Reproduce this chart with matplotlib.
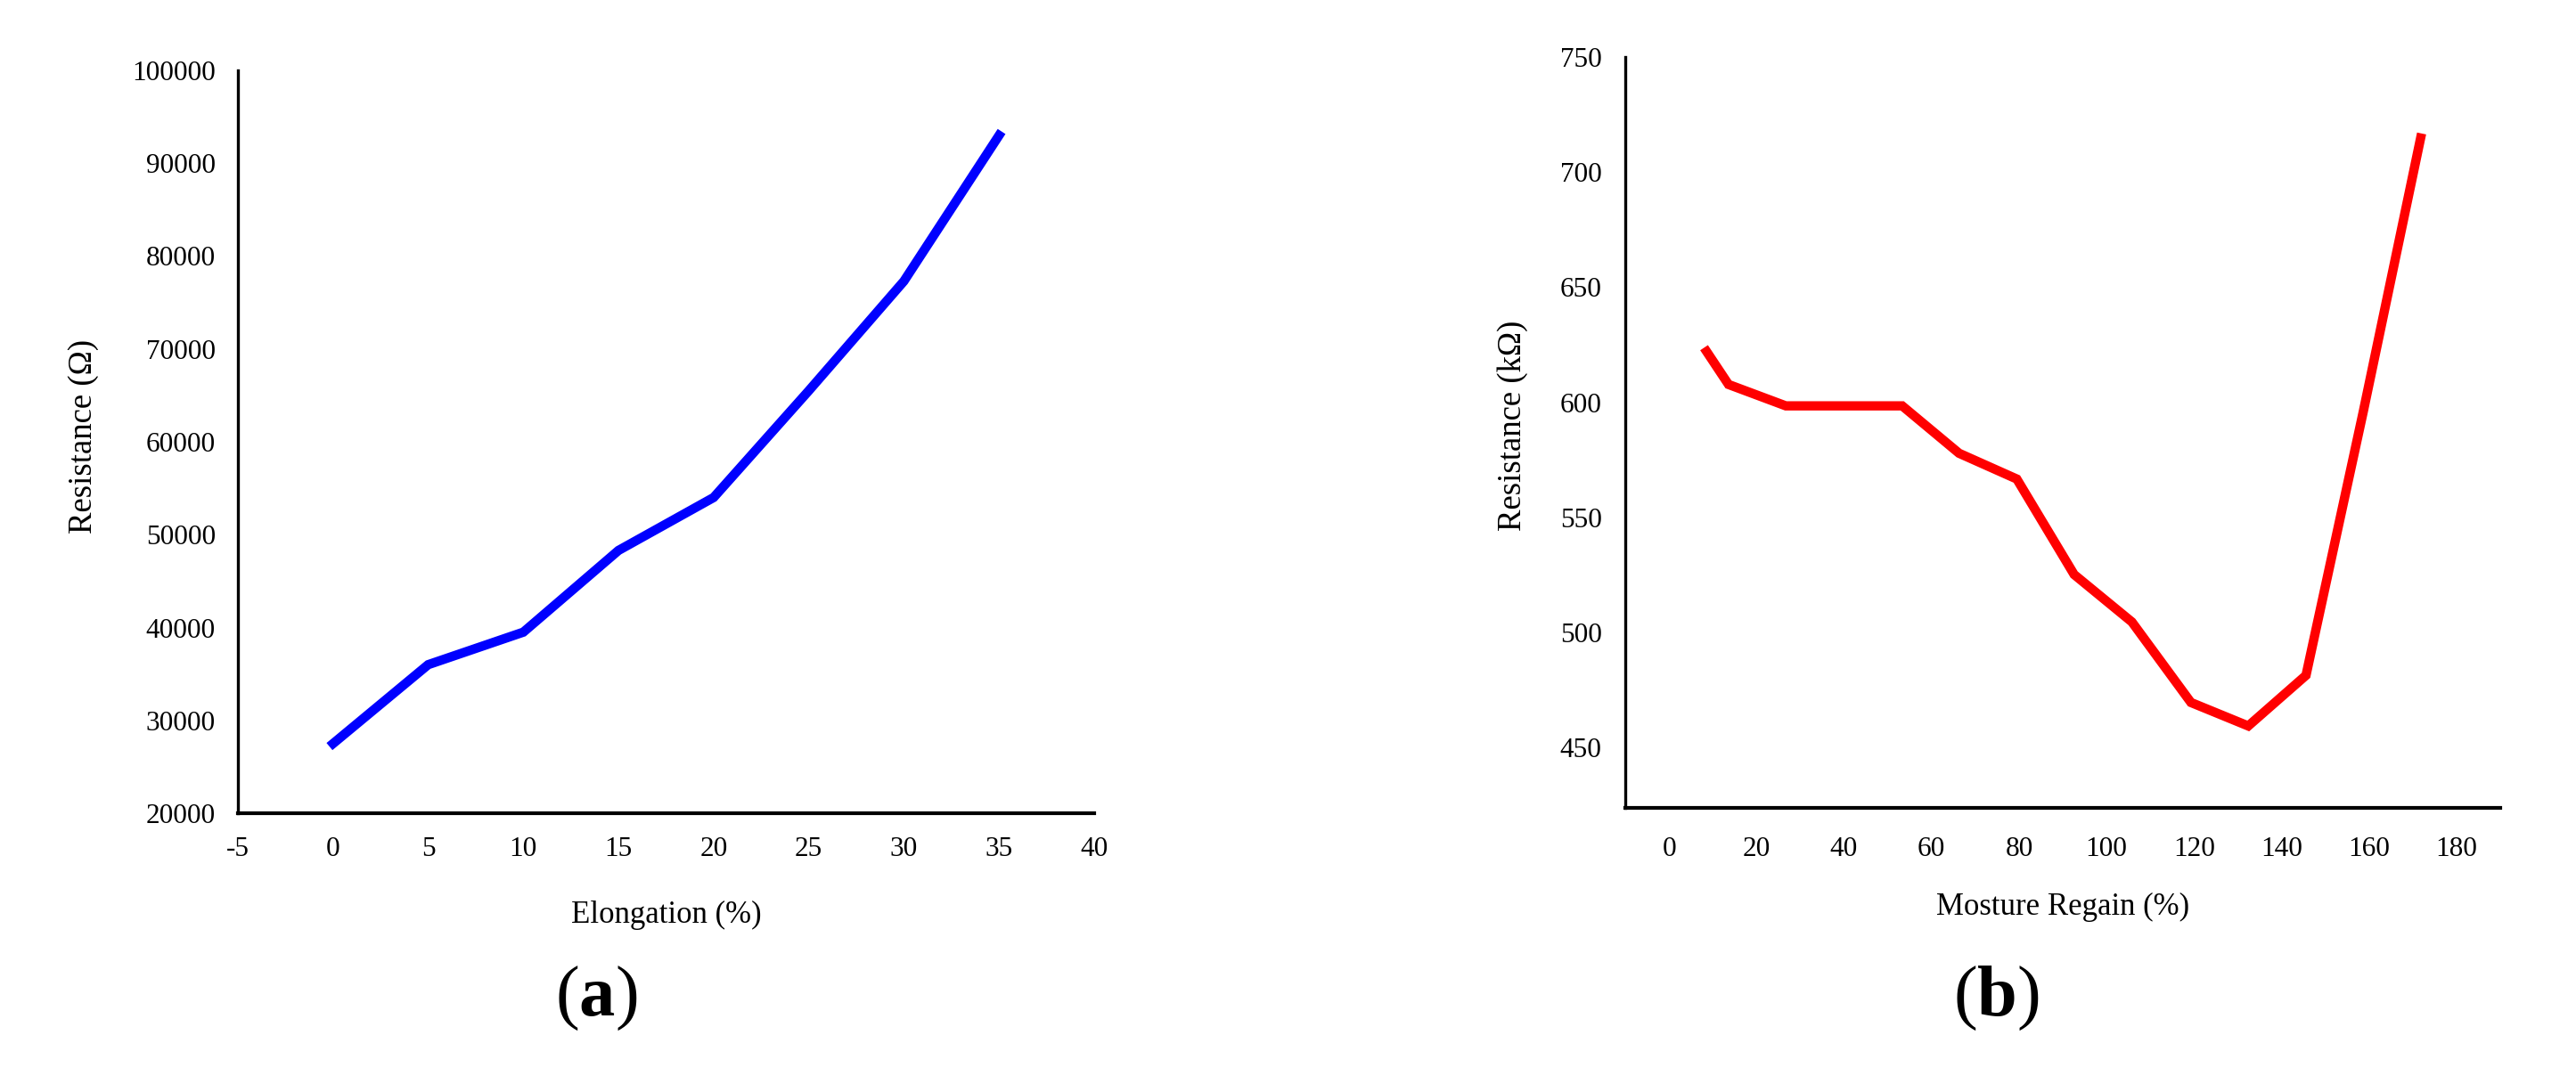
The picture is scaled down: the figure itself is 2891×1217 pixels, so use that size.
import matplotlib
matplotlib.use("Agg")
import matplotlib.pyplot as plt
import numpy as np

# ---- data ----
elongation = [0, 5, 10, 15, 20, 25, 30, 35]
resistance_a = [27500, 36000, 39500, 48300, 54000, 65500, 77300, 93000]
a_xticks = [-5, 0, 5, 10, 15, 20, 25, 30, 35, 40]
a_yticks = [20000, 30000, 40000, 50000, 60000, 70000, 80000, 90000, 100000]

moisture = [8.6, 13.6, 26.7, 53.3, 66.3, 79.5, 92.6, 105.8, 119.3, 132.4, 145.6, 158.7, 171.8]
resistance_b = [622, 607.7, 598.4, 598.4, 577.8, 566.6, 525.1, 504.5, 469.5, 459.3, 481.3, 596, 714.8]
b_xticks = [0, 20, 40, 60, 80, 100, 120, 140, 160, 180]
b_yticks = [450, 500, 550, 600, 650, 700, 750]

plt.rcParams['font.family'] = ['Liberation Serif', 'DejaVu Serif']
plt.rcParams['axes.unicode_minus'] = False
plt.rcParams['mathtext.fontset'] = 'custom'
plt.rcParams['mathtext.rm'] = 'Liberation Serif'
plt.rcParams['mathtext.bf'] = 'Liberation Serif:bold'

W, H = 2891, 1217
fig = plt.figure(figsize=(W / 100, H / 100), dpi=100)

def style(ax):
    for s in ['top', 'right']:
        ax.spines[s].set_visible(False)
    ax.spines['left'].set_linewidth(2.4)
    ax.spines['bottom'].set_linewidth(3.0)
    ax.tick_params(axis='both', length=0, labelsize=22.5)
    ax.tick_params(axis='x', pad=19)
    ax.tick_params(axis='y', pad=18)

# ---- panel (a) ----
ax1 = fig.add_axes([267 / W, 1 - 913 / H, (1228 - 267) / W, (913 - 79) / H])
ax1.plot(elongation, resistance_a, color='#0000FF', lw=7.5, solid_joinstyle='miter')
ax1.set_xlim(-5, 40)
ax1.set_ylim(20000, 100000)
ax1.set_xticks(a_xticks)
ax1.set_yticks(a_yticks)
style(ax1)
ax1.set_xlabel('Elongation (%)', fontsize=25)
ax1.xaxis.label.set_va('center')
ax1.xaxis.set_label_coords(0.5, -0.137)
ax1.set_ylabel('Resistance (Ω)', fontsize=26.5)
ax1.yaxis.label.set_va('center')
ax1.yaxis.set_label_coords(-0.18, 0.507)

# ---- panel (b) ----
ax2 = fig.add_axes([1824 / W, 1 - 907 / H, (2806 - 1824) / W, (907 - 64) / H])
ax2.plot(moisture, resistance_b, color='#FF0000', lw=7.5, solid_joinstyle='miter')
ax2.set_xlim(-10, 190)
ax2.set_ylim(423.7, 750)
ax2.set_xticks(b_xticks)
ax2.set_yticks(b_yticks)
style(ax2)
ax2.tick_params(axis='x', pad=23)
ax2.tick_params(axis='y', pad=19)
ax2.set_xlabel('Mosture Regain (%)', fontsize=25)
ax2.xaxis.label.set_va('center')
ax2.xaxis.set_label_coords(0.5, -0.132)
ax2.set_ylabel('Resistance (kΩ)', fontsize=26.5)
ax2.yaxis.label.set_va('center')
ax2.yaxis.set_label_coords(-0.129, 0.509)

# panel letters
fig.text(669 / W, 1 - 1121 / H, r'($\mathbf{a}$)', fontsize=58, ha='center', va='center')
fig.text(2240 / W, 1 - 1121 / H, r'($\mathbf{b}$)', fontsize=58, ha='center', va='center')

fig.savefig('out.png', dpi=100, facecolor='white')
